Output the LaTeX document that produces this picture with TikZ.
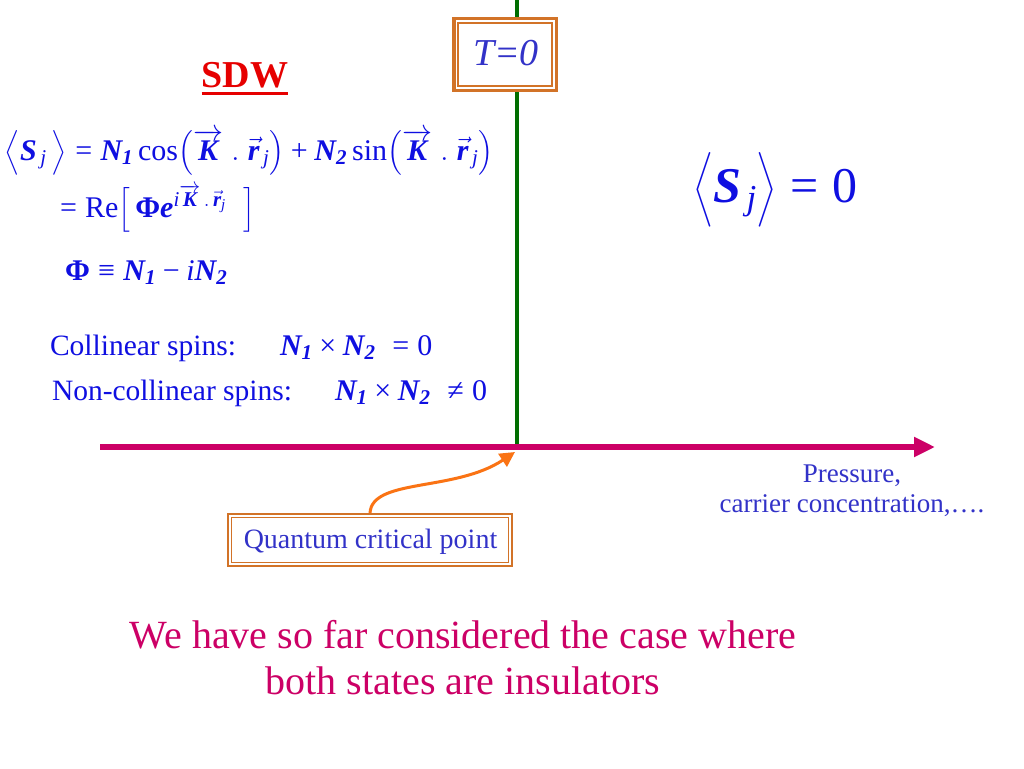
\RequirePackage{fix-cm}
\documentclass[tikz,border=0pt]{standalone}
\usepackage{amsmath}
\usepackage{fontspec}
\setmainfont{Liberation Serif}
\usetikzlibrary{arrows.meta}
\definecolor{eqblue}{RGB}{15,15,225}
\definecolor{txtblue}{RGB}{50,50,200}
\definecolor{magline}{RGB}{204,0,102}
\definecolor{gline}{RGB}{0,110,0}
\definecolor{frameor}{RGB}{210,115,40}
\definecolor{arrowor}{RGB}{250,115,20}
\definecolor{sdwred}{RGB}{230,0,0}
\newcommand\BI[1]{\text{\bfseries\itshape #1}}
\newcommand\IT[1]{\text{\itshape #1}}
\newcommand\EQ{\mathrel{\text{=}}}
\newcommand\PL{\mathbin{\text{+}}}
\newcommand\MI{\mathbin{\text{−}}}
\newcommand\TI{\mathbin{\text{×}}}
\newcommand\EQV{\mathrel{\text{≡}}}
\newcommand\NE{\mathrel{\text{≠}}}
\tikzset{
  txt/.style={inner sep=0pt, outer sep=0pt},
  eq/.style={txt, anchor=base west, text=eqblue, font=\fontsize{30}{36}\selectfont},
  lbl/.style={txt, text=eqblue, font=\fontsize{29.5}{35}\selectfont},
  boxtext/.style={txt, fill=white},
}
\begin{document}
\begin{tikzpicture}[x=1pt,y=-1pt]
\useasboundingbox (0,0) rectangle (1024,768);
\fill[white] (0,0) rectangle (1024,768);

% axes
\coordinate (gtop) at (517,0);
\coordinate (qcp) at (517,447);
\coordinate (axl) at (100,447);
\coordinate (axr) at (935,447);
\coordinate (qcparrow) at (515,452);
\draw[gline, line width=4pt] (gtop) -- (qcp);
\draw[magline, line width=6.5pt, -{Triangle[length=21pt,width=19pt]}] (axl) -- (axr);

% T=0 box
\node[boxtext, minimum width=106pt, minimum height=75pt] (tz) at (505,54.5) {};
\draw[frameor, line width=3.5pt] ([shift={(1.75,1.75)}]tz.north west) rectangle ([shift={(-1.75,-1.75)}]tz.south east);
\draw[frameor, line width=2.2pt] ([shift={(6.2,6.2)}]tz.north west) rectangle ([shift={(-6.2,-6.2)}]tz.south east);
\node[txt, anchor=base, text=txtblue, font=\fontsize{38}{40}\selectfont\itshape] (tzt) at (506,65) {T=0};

% SDW
\node[txt, anchor=base, text=sdwred, font=\fontsize{38}{40}\selectfont\bfseries] (sdw) at (245,87) {SDW};
\draw[sdwred, line width=3pt] ([shift={(0,6.5)}]sdw.base west) -- ([shift={(0,6.5)}]sdw.base east);

% equations
\node[eq] (eq1) at (5,160) {$\bigl\langle \BI{S}_{\,\IT{j}}\,\bigr\rangle \EQ \BI{N}_{\BI{1}}\,\text{cos}\bigl(\overrightarrow{\BI{K}}\;.\;\vec{\BI{r}}_{\,\IT{j}}\bigr) \PL \BI{N}_{\BI{2}}\,\text{sin}\bigl(\overrightarrow{\BI{K}}\;.\;\vec{\BI{r}}_{\,\IT{j}}\bigr)$};
\node[eq] (eq2) at (60,217) {$\EQ \text{Re}\bigl[\,\text{\bfseries Φ}\BI{e}^{\IT{i}\overrightarrow{\BI{K}}\,.\,\vec{\BI{r}}_{\IT{j}}}\;\;\bigr]$};
\node[eq] (eq3) at (65,280) {$\text{\bfseries Φ} \EQV \BI{N}_{\BI{1}} \MI \IT{i}\BI{N}_{\BI{2}}$};

\node[lbl, anchor=base west] (col) at (50,355) {Collinear spins:};
\node[eq] (colf) at (280,355) {$\BI{N}_{\BI{1}}\TI\BI{N}_{\BI{2}}\;\EQ \text{0}$};
\node[lbl, anchor=base west] (ncol) at (52,400) {Non-collinear spins:};
\node[eq] (ncolf) at (335,400) {$\BI{N}_{\BI{1}}\TI\BI{N}_{\BI{2}}\;\NE \text{0}$};

\node[eq, font=\fontsize{50}{60}\selectfont] (sz) at (693,202) {$\Bigl\langle \BI{S}_{\,\IT{j}}\Bigr\rangle \EQ \text{0}$};

% pressure label
\node[txt, anchor=base, text=txtblue, font=\fontsize{27}{30}\selectfont] (pr1) at (852,482) {Pressure,};
\node[txt, anchor=base, text=txtblue, font=\fontsize{27}{30}\selectfont] (pr2) at (852,512) {carrier concentration,\dots.};

% quantum critical point
\node[boxtext, minimum width=286pt, minimum height=54pt] (qbox) at (370,540) {};
\draw[frameor, line width=2.2pt] ([shift={(1.1,1.1)}]qbox.north west) rectangle ([shift={(-1.1,-1.1)}]qbox.south east);
\draw[frameor, line width=1.3pt] ([shift={(4.7,4.7)}]qbox.north west) rectangle ([shift={(-4.7,-4.7)}]qbox.south east);
\node[txt, anchor=base, text=txtblue, font=\fontsize{28}{30}\selectfont] (qtext) at (370.5,548) {Quantum critical point};
\draw[arrowor, line width=3pt, -{Triangle[length=15pt,width=15pt]}] (qbox.north) .. controls (372,478) and (455,492) .. (qcparrow);

% bottom text
\node[txt, anchor=base, text=magline, font=\fontsize{40}{46}\selectfont] (b1) at (463,648) {We have so far considered the case where};
\node[txt, anchor=base, text=magline, font=\fontsize{40}{46}\selectfont] (b2) at (463,694) {both states are insulators};
\end{tikzpicture}
\end{document}
